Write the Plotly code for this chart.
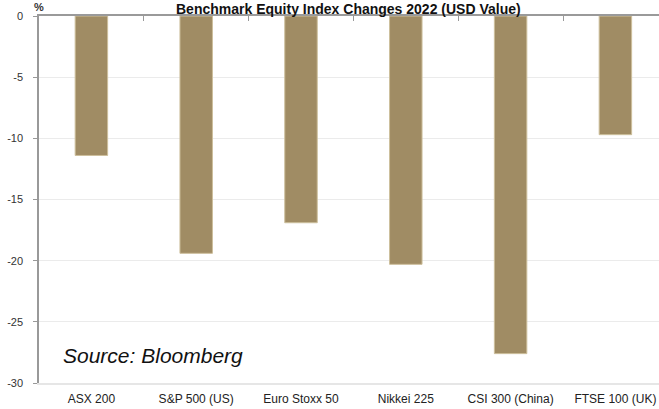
import plotly.graph_objects as go

categories = ["ASX 200", "S&P 500 (US)", "Euro Stoxx 50",
              "Nikkei 225", "CSI 300 (China)", "FTSE 100 (UK)"]
values = [-11.4, -19.4, -16.9, -20.3, -27.6, -9.7]
y_ticks = [0, -5, -10, -15, -20, -25, -30]
boundaries = [0.5, 1.5, 2.5, 3.5, 4.5, 5.5]

W, H = 659, 409
ML, MR, MT, MB = 39, 0, 16, 26
plot_h = H - MT - MB

fig = go.Figure()
fig.add_trace(go.Bar(
    x=list(range(len(categories))), y=values, width=0.31,
    marker=dict(color="#A08C64", line=dict(color="#CDBF9C", width=1)),
    showlegend=False,
))
# dummy trace for the top (zero-line) axis with boundary ticks
fig.add_trace(go.Scatter(x=[0], y=[0], xaxis="x2", mode="markers",
                         marker=dict(opacity=0), showlegend=False, hoverinfo="skip"))

xr = [-0.5, -0.5 + (W - ML) / 104.8]
fig.update_layout(
    width=W, height=H,
    margin=dict(l=ML, r=MR, t=MT, b=MB, autoexpand=False),
    plot_bgcolor="white", paper_bgcolor="white",
    font=dict(family="Arial, Liberation Sans, sans-serif", color="#222"),
    xaxis=dict(
        range=xr, tickmode="array", tickvals=list(range(len(categories))),
        ticktext=categories, ticks="", showline=True, linecolor="#e6e6e6", linewidth=2,
        showgrid=False, zeroline=False, tickfont=dict(size=12, color="#222"),
        ticklabelstandoff=4, automargin=False,
    ),
    xaxis2=dict(
        overlaying="x", side="top", range=xr, tickmode="array", tickvals=boundaries,
        ticks="inside", ticklen=5, tickcolor="#999", tickwidth=1,
        showticklabels=False, showline=True, linecolor="#9a9a9a", linewidth=2,
        showgrid=False, zeroline=False, automargin=False,
    ),
    yaxis=dict(
        range=[-30, 0], tickmode="array", tickvals=y_ticks,
        ticktext=[str(v) for v in y_ticks],
        ticks="outside", ticklen=4, tickcolor="#999", showline=True,
        linecolor="#999", linewidth=1.5, showgrid=True, gridcolor="#ebebeb",
        gridwidth=1, zeroline=False, tickfont=dict(size=11, color="#333"),
        ticklabelstandoff=8, automargin=False,
    ),
    annotations=[
        dict(text="<b>Benchmark Equity Index Changes 2022 (USD Value)</b>",
             xref="paper", yref="paper", x=(348 - ML) / (W - ML), y=1 + MT / plot_h,
             xanchor="center", yanchor="top", showarrow=False, borderpad=0,
             font=dict(size=14, color="#111")),
        dict(text="<b>%</b>", xref="paper", yref="paper", x=0, y=1 + MT / plot_h,
             xanchor="center", yanchor="top", showarrow=False, borderpad=0,
             font=dict(size=11, color="#333")),
        dict(text="<i>Source: Bloomberg</i>", xref="paper", yref="paper",
             x=(61 - ML) / (W - ML), y=(H - MB - 355) / plot_h,
             xanchor="left", yanchor="middle", showarrow=False,
             font=dict(size=21, color="#111")),
    ],
)

fig.write_html("out.html")
